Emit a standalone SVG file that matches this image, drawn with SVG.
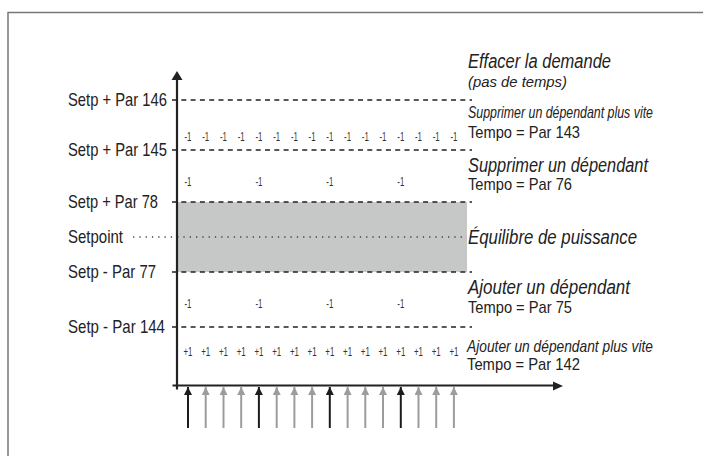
<svg xmlns="http://www.w3.org/2000/svg" width="703" height="456" viewBox="0 0 703 456">
<style>
.lbl{font-family:"Liberation Sans",Arial,sans-serif;font-size:19px;fill:#222}
.it{font-family:"Liberation Sans",Arial,sans-serif;font-style:italic;fill:#222}
.tp{font-family:"Liberation Sans",Arial,sans-serif;font-size:17px;fill:#222}
.sm{font-family:"Liberation Sans",Arial,sans-serif;font-size:13px;fill:#333;text-anchor:middle}
.dash{stroke:#222;stroke-width:1.3;stroke-dasharray:5 4.3;fill:none}
.dot{stroke:#444;stroke-width:1.3;stroke-dasharray:1.3 5;fill:none}
.ax{stroke:#222;stroke-width:2.2;fill:none}
.ab{stroke:#1c1c1c;stroke-width:2}
.ag{stroke:#9c9c9c;stroke-width:2}
</style>
<defs>
<marker id="hb" viewBox="0 0 8 8" refX="8" refY="4" markerWidth="8" markerHeight="8" markerUnits="userSpaceOnUse" orient="auto"><path d="M0,0 L8,4 L0,8 z" fill="#1c1c1c"/></marker>
<marker id="hg" viewBox="0 0 8 8" refX="8" refY="4" markerWidth="8" markerHeight="8" markerUnits="userSpaceOnUse" orient="auto"><path d="M0,0 L8,4 L0,8 z" fill="#9c9c9c"/></marker>
</defs>
<rect width="703" height="456" fill="#fff"/>
<rect x="8" y="12.5" width="720" height="470" fill="none" stroke="#777" stroke-width="1.5"/>

<g id="band">
<rect x="177" y="202" width="290" height="70" fill="#c6c7c7"/>
</g>

<g id="levels">
<line class="dash" x1="172" y1="100" x2="472" y2="100"/>
<line class="dash" x1="172" y1="150" x2="472" y2="150"/>
<line class="dash" x1="172" y1="202" x2="472" y2="202"/>
<line class="dot" x1="133" y1="237" x2="467" y2="237"/>
<line class="dash" x1="172" y1="272" x2="472" y2="272"/>
<line class="dash" x1="172" y1="327" x2="472" y2="327"/>
</g>

<g id="left-labels">
<text class="lbl" x="68" y="106" textLength="99" lengthAdjust="spacingAndGlyphs">Setp + Par 146</text>
<text class="lbl" x="68" y="156" textLength="99" lengthAdjust="spacingAndGlyphs">Setp + Par 145</text>
<text class="lbl" x="68" y="208" textLength="90" lengthAdjust="spacingAndGlyphs">Setp + Par 78</text>
<text class="lbl" x="68" y="243" textLength="55" lengthAdjust="spacingAndGlyphs">Setpoint</text>
<text class="lbl" x="68" y="278" textLength="88" lengthAdjust="spacingAndGlyphs">Setp - Par 77</text>
<text class="lbl" x="68" y="333" textLength="97" lengthAdjust="spacingAndGlyphs">Setp - Par 144</text>
</g>

<g id="right-labels">
<text class="it" x="468" y="68" font-size="20" textLength="143" lengthAdjust="spacingAndGlyphs">Effacer la demande</text>
<text class="it" x="468" y="87" font-size="15.5" textLength="99" lengthAdjust="spacingAndGlyphs">(pas de temps)</text>
<text class="it" x="468" y="118" font-size="16.5" textLength="185" lengthAdjust="spacingAndGlyphs">Supprimer un dépendant plus vite</text>
<text class="tp" x="468" y="138" textLength="112" lengthAdjust="spacingAndGlyphs">Tempo = Par 143</text>
<text class="it" x="468" y="172" font-size="20" textLength="180" lengthAdjust="spacingAndGlyphs">Supprimer un dépendant</text>
<text class="tp" x="468" y="190" textLength="104" lengthAdjust="spacingAndGlyphs">Tempo = Par 76</text>
<text class="it" x="468" y="244" font-size="20" textLength="169" lengthAdjust="spacingAndGlyphs">Équilibre de puissance</text>
<text class="it" x="468" y="294" font-size="20" textLength="162" lengthAdjust="spacingAndGlyphs">Ajouter un dépendant</text>
<text class="tp" x="468" y="313" textLength="104" lengthAdjust="spacingAndGlyphs">Tempo = Par 75</text>
<text class="it" x="467" y="352" font-size="16.5" textLength="186" lengthAdjust="spacingAndGlyphs">Ajouter un dépendant plus vite</text>
<text class="tp" x="467" y="370" textLength="113" lengthAdjust="spacingAndGlyphs">Tempo = Par 142</text>
</g>

<g id="steps-fast-remove">
<text class="sm" x="188" y="141" textLength="7" lengthAdjust="spacingAndGlyphs">-1</text>
<text class="sm" x="205.7" y="141" textLength="7" lengthAdjust="spacingAndGlyphs">-1</text>
<text class="sm" x="223.5" y="141" textLength="7" lengthAdjust="spacingAndGlyphs">-1</text>
<text class="sm" x="241.2" y="141" textLength="7" lengthAdjust="spacingAndGlyphs">-1</text>
<text class="sm" x="258.9" y="141" textLength="7" lengthAdjust="spacingAndGlyphs">-1</text>
<text class="sm" x="276.7" y="141" textLength="7" lengthAdjust="spacingAndGlyphs">-1</text>
<text class="sm" x="294.4" y="141" textLength="7" lengthAdjust="spacingAndGlyphs">-1</text>
<text class="sm" x="312.1" y="141" textLength="7" lengthAdjust="spacingAndGlyphs">-1</text>
<text class="sm" x="329.8" y="141" textLength="7" lengthAdjust="spacingAndGlyphs">-1</text>
<text class="sm" x="347.6" y="141" textLength="7" lengthAdjust="spacingAndGlyphs">-1</text>
<text class="sm" x="365.3" y="141" textLength="7" lengthAdjust="spacingAndGlyphs">-1</text>
<text class="sm" x="383.0" y="141" textLength="7" lengthAdjust="spacingAndGlyphs">-1</text>
<text class="sm" x="400.8" y="141" textLength="7" lengthAdjust="spacingAndGlyphs">-1</text>
<text class="sm" x="418.5" y="141" textLength="7" lengthAdjust="spacingAndGlyphs">-1</text>
<text class="sm" x="436.2" y="141" textLength="7" lengthAdjust="spacingAndGlyphs">-1</text>
<text class="sm" x="453.9" y="141" textLength="7" lengthAdjust="spacingAndGlyphs">-1</text>
</g>

<g id="steps-remove">
<text class="sm" x="188" y="186" textLength="7" lengthAdjust="spacingAndGlyphs">-1</text>
<text class="sm" x="258.9" y="186" textLength="7" lengthAdjust="spacingAndGlyphs">-1</text>
<text class="sm" x="329.8" y="186" textLength="7" lengthAdjust="spacingAndGlyphs">-1</text>
<text class="sm" x="400.8" y="186" textLength="7" lengthAdjust="spacingAndGlyphs">-1</text>
</g>

<g id="steps-add">
<text class="sm" x="188" y="308" textLength="7" lengthAdjust="spacingAndGlyphs">-1</text>
<text class="sm" x="258.9" y="308" textLength="7" lengthAdjust="spacingAndGlyphs">-1</text>
<text class="sm" x="329.8" y="308" textLength="7" lengthAdjust="spacingAndGlyphs">-1</text>
<text class="sm" x="400.8" y="308" textLength="7" lengthAdjust="spacingAndGlyphs">-1</text>
</g>

<g id="steps-fast-add">
<text class="sm" x="188" y="356" textLength="9" lengthAdjust="spacingAndGlyphs">+1</text>
<text class="sm" x="205.7" y="356" textLength="9" lengthAdjust="spacingAndGlyphs">+1</text>
<text class="sm" x="223.5" y="356" textLength="9" lengthAdjust="spacingAndGlyphs">+1</text>
<text class="sm" x="241.2" y="356" textLength="9" lengthAdjust="spacingAndGlyphs">+1</text>
<text class="sm" x="258.9" y="356" textLength="9" lengthAdjust="spacingAndGlyphs">+1</text>
<text class="sm" x="276.7" y="356" textLength="9" lengthAdjust="spacingAndGlyphs">+1</text>
<text class="sm" x="294.4" y="356" textLength="9" lengthAdjust="spacingAndGlyphs">+1</text>
<text class="sm" x="312.1" y="356" textLength="9" lengthAdjust="spacingAndGlyphs">+1</text>
<text class="sm" x="329.8" y="356" textLength="9" lengthAdjust="spacingAndGlyphs">+1</text>
<text class="sm" x="347.6" y="356" textLength="9" lengthAdjust="spacingAndGlyphs">+1</text>
<text class="sm" x="365.3" y="356" textLength="9" lengthAdjust="spacingAndGlyphs">+1</text>
<text class="sm" x="383.0" y="356" textLength="9" lengthAdjust="spacingAndGlyphs">+1</text>
<text class="sm" x="400.8" y="356" textLength="9" lengthAdjust="spacingAndGlyphs">+1</text>
<text class="sm" x="418.5" y="356" textLength="9" lengthAdjust="spacingAndGlyphs">+1</text>
<text class="sm" x="436.2" y="356" textLength="9" lengthAdjust="spacingAndGlyphs">+1</text>
<text class="sm" x="453.9" y="356" textLength="9" lengthAdjust="spacingAndGlyphs">+1</text>
</g>

<g id="connectors">
<line class="ax" x1="177" y1="389.5" x2="177" y2="79"/>
<polygon points="177,71 171.5,80 182.5,80" fill="#222"/>
<line class="ax" x1="172.5" y1="385.5" x2="554" y2="385.5"/>
<polygon points="563,386 553,381.5 553,390.5" fill="#222"/>
<line class="ab" x1="188" y1="428" x2="188" y2="387" marker-end="url(#hb)"/>
<line class="ag" x1="205.7" y1="428" x2="205.7" y2="387" marker-end="url(#hg)"/>
<line class="ag" x1="223.5" y1="428" x2="223.5" y2="387" marker-end="url(#hg)"/>
<line class="ag" x1="241.2" y1="428" x2="241.2" y2="387" marker-end="url(#hg)"/>
<line class="ab" x1="258.9" y1="428" x2="258.9" y2="387" marker-end="url(#hb)"/>
<line class="ag" x1="276.7" y1="428" x2="276.7" y2="387" marker-end="url(#hg)"/>
<line class="ag" x1="294.4" y1="428" x2="294.4" y2="387" marker-end="url(#hg)"/>
<line class="ag" x1="312.1" y1="428" x2="312.1" y2="387" marker-end="url(#hg)"/>
<line class="ab" x1="329.8" y1="428" x2="329.8" y2="387" marker-end="url(#hb)"/>
<line class="ag" x1="347.6" y1="428" x2="347.6" y2="387" marker-end="url(#hg)"/>
<line class="ag" x1="365.3" y1="428" x2="365.3" y2="387" marker-end="url(#hg)"/>
<line class="ag" x1="383.0" y1="428" x2="383.0" y2="387" marker-end="url(#hg)"/>
<line class="ab" x1="400.8" y1="428" x2="400.8" y2="387" marker-end="url(#hb)"/>
<line class="ag" x1="418.5" y1="428" x2="418.5" y2="387" marker-end="url(#hg)"/>
<line class="ag" x1="436.2" y1="428" x2="436.2" y2="387" marker-end="url(#hg)"/>
<line class="ag" x1="453.9" y1="428" x2="453.9" y2="387" marker-end="url(#hg)"/>
</g>
</svg>
